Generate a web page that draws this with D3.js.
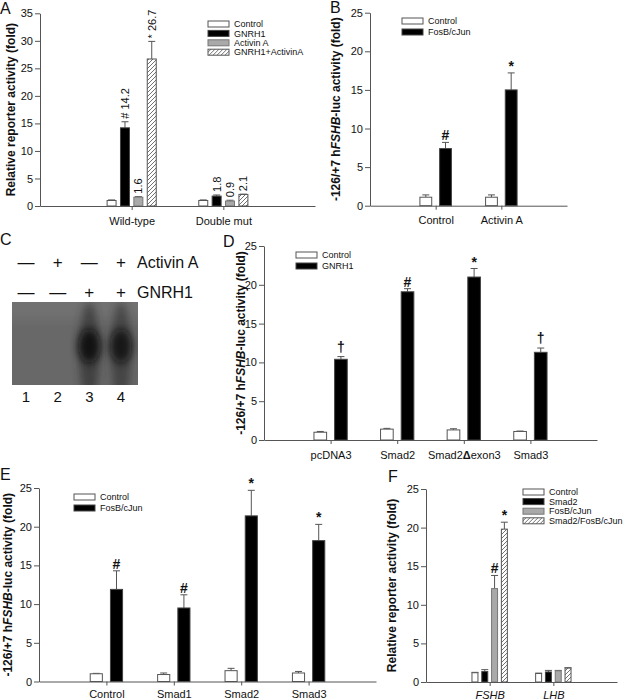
<!DOCTYPE html>
<html><head><meta charset="utf-8">
<script src="https://cdn.jsdelivr.net/npm/d3@7"></script>
<style>body{margin:0;background:#fff}svg{display:block}text{font-family:"Liberation Sans",Arial,sans-serif;fill:#111}</style>
</head><body><svg id="fig" width="624" height="700"></svg>
<script>
// ================= DATA =================
// Panel A
const A_categories = ["Wild-type", "Double mut"];
const A_seriesNames = ["Control", "GNRH1", "Activin A", "GNRH1+ActivinA"];
const A_control = [1.0, 1.0];
const A_controlErr = [0.1, 0.1];
const A_gnrh1 = [14.2, 1.8];
const A_gnrh1Err = [1.1, 0.2];
const A_activin = [1.6, 0.9];
const A_activinErr = [0.1, 0.15];
const A_combo = [26.7, 2.1];
const A_comboErr = [3.2, 0.05];
const A_controlLabels = [null, null];
const A_gnrh1Labels = ["# 14.2", "1.8"];
const A_activinLabels = ["1.6", "0.9"];
const A_comboLabels = ["* 26.7", "2.1"];
const A_yTicks = [0, 5, 10, 15, 20, 25, 30, 35];

// Panel B
const B_categories = ["Control", "Activin A"];
const B_seriesNames = ["Control", "FosB/cJun"];
const B_control = [1.1, 1.1];
const B_controlErr = [0.3, 0.3];
const B_fosb = [7.4, 15.0];
const B_fosbErr = [0.8, 2.2];
const B_fosbMarks = ["#", "*"];
const B_yTicks = [0, 5, 10, 15, 20, 25];

// Panel C (blot)
const C_lanes = ["1", "2", "3", "4"];
const C_activinSigns = ["\u2014", "+", "\u2014", "+"];
const C_gnrhSigns = ["\u2014", "\u2014", "+", "+"];
const C_bandIntensity = [0, 0, 1.0, 0.9];

// Panel D
const D_categories = ["pcDNA3", "Smad2", "Smad2\u0394exon3", "Smad3"];
const D_seriesNames = ["Control", "GNRH1"];
const D_control = [1.0, 1.4, 1.3, 1.1];
const D_controlErr = [0.1, 0.1, 0.15, 0.05];
const D_gnrh1 = [10.4, 19.1, 21.0, 11.3];
const D_gnrh1Err = [0.35, 0.4, 1.1, 0.55];
const D_gnrh1Marks = ["\u2020", "#", "*", "\u2020"];
const D_yTicks = [0, 5, 10, 15, 20, 25];

// Panel E
const E_categories = ["Control", "Smad1", "Smad2", "Smad3"];
const E_seriesNames = ["Control", "FosB/cJun"];
const E_control = [1.0, 0.9, 1.4, 1.1];
const E_controlErr = [0.05, 0.2, 0.3, 0.2];
const E_fosb = [11.9, 9.5, 21.4, 18.2];
const E_fosbErr = [2.4, 1.7, 3.3, 2.1];
const E_fosbMarks = ["#", "#", "*", "*"];
const E_yTicks = [0, 5, 10, 15, 20, 25];

// Panel F
const F_categories = ["FSHB", "LHB"];
const F_seriesNames = ["Control", "Smad2", "FosB/cJun", "Smad2/FosB/cJun"];
const F_control = [1.2, 1.1];
const F_controlErr = [0.05, 0.05];
const F_smad2 = [1.35, 1.3];
const F_smad2Err = [0.25, 0.2];
const F_fosb = [12.1, 1.45];
const F_fosbErr = [1.7, 0.05];
const F_combo = [19.8, 1.8];
const F_comboErr = [0.9, 0.05];
const F_fosbMarks = ["#", null];
const F_comboMarks = ["*", null];
const F_yTicks = [0, 5, 10, 15, 20, 25];

// ================= DRAWING =================
const svg = d3.select("#fig");
const FONT = '"Liberation Sans", Arial, sans-serif';
const AXC = "#555";
const defs = svg.append("defs");

const hatch = defs.append("pattern").attr("id", "hatch")
  .attr("patternUnits", "userSpaceOnUse").attr("width", 4).attr("height", 4);
hatch.append("rect").attr("width", 4).attr("height", 4).attr("fill", "#fff");
hatch.append("path").attr("d", "M-1,1 l2,-2 M0,4 l4,-4 M3,5 l2,-2")
  .attr("stroke", "#444").attr("stroke-width", 0.75);

const styles = {
  white: {fill: "#fff", stroke: "#555"},
  black: {fill: "#000", stroke: "#444"},
  gray: {fill: "#a9a9a9", stroke: "#777"},
  hatch: {fill: "url(#hatch)", stroke: "#555"}
};

function yLabelTspans(t, fsh) {
  if (fsh) {
    t.append("tspan").text("-126/+7 h");
    t.append("tspan").attr("font-style", "italic").text("FSHB");
    t.append("tspan").text("-luc activity (fold)");
  } else {
    t.text("Relative reporter activity (fold)");
  }
}

function barPanel(cfg) {
  const g = svg.append("g");
  const n = cfg.categories.length;
  const x = d3.scaleLinear().domain([0, n + 1]).range([cfg.x0, cfg.x1]);
  const y = d3.scaleLinear().domain([0, d3.max(cfg.yTicks)]).range([cfg.yBot, cfg.yTop]);
  const unit = x(1) - x(0);
  const bw = cfg.bw * unit;
  const k = cfg.series.length;

  const recs = [];
  cfg.series.forEach((s, i) => {
    const off = (i - (k - 1) / 2) * cfg.step;
    s.values.forEach((v, j) => {
      recs.push({cx: x(j + 1 + off), v, e: s.errors[j], style: s.style,
        label: s.labels ? s.labels[j] : null, mark: s.marks ? s.marks[j] : null});
    });
  });

  const eb = g.append("g").selectAll("g").data(recs).join("g");
  eb.append("line").attr("x1", d => d.cx).attr("x2", d => d.cx)
    .attr("y1", d => y(d.v)).attr("y2", d => y(d.v + d.e))
    .attr("stroke", AXC).attr("stroke-width", 1);
  eb.append("line").attr("x1", d => d.cx - 3.5).attr("x2", d => d.cx + 3.5)
    .attr("y1", d => y(d.v + d.e)).attr("y2", d => y(d.v + d.e))
    .attr("stroke", AXC).attr("stroke-width", 1);

  g.append("g").selectAll("rect").data(recs).join("rect")
    .attr("x", d => d.cx - bw / 2).attr("y", d => y(d.v))
    .attr("width", bw).attr("height", d => y(0) - y(d.v))
    .attr("fill", d => styles[d.style].fill)
    .attr("stroke", d => styles[d.style].stroke).attr("stroke-width", 1);

  g.append("g").selectAll("text").data(recs.filter(d => d.label)).join("text")
    .attr("transform", d => `translate(${d.cx},${y(d.v + d.e) - 3}) rotate(-90)`)
    .attr("dy", "0.36em").attr("font-size", 11).text(d => d.label);

  g.append("g").selectAll("text").data(recs.filter(d => d.mark)).join("text")
    .attr("x", d => d.cx)
    .attr("y", d => y(d.v + d.e) - (d.mark === "\u2020" ? 5 : 2))
    .attr("text-anchor", "middle").attr("font-size", 14).attr("font-weight", "bold")
    .attr("fill", "#000")
    .text(d => d.mark);

  const ya = g.append("g").attr("transform", `translate(${cfg.x0},0)`)
    .call(d3.axisLeft(y).tickValues(cfg.yTicks).tickSize(5).tickSizeOuter(0).tickPadding(2));
  const xa = g.append("g").attr("transform", `translate(0,${cfg.yBot})`)
    .call(d3.axisBottom(x).tickValues(d3.range(1, n + 1)).tickFormat(i => cfg.categories[i - 1])
      .tickSize(4).tickSizeOuter(0).tickPadding(cfg.xPad || 7));
  [ya, xa].forEach(a => {
    a.select(".domain").attr("stroke", AXC);
    a.selectAll(".tick line").attr("stroke", AXC);
    a.selectAll("text").attr("font-size", 11).attr("font-family", FONT).attr("fill", "#111");
  });
  if (cfg.italicX) xa.selectAll("text").attr("font-style", "italic");
  if (cfg.boldDelta) {
    xa.selectAll(".tick text").each(function (d) {
      const s = cfg.categories[d - 1];
      if (s.includes("\u0394")) {
        const t = d3.select(this).text("");
        const parts = s.split("\u0394");
        t.append("tspan").text(parts[0]);
        t.append("tspan").attr("font-weight", "bold").text("\u0394");
        t.append("tspan").text(parts[1]);
      }
    });
  }

  const yl = g.append("text")
    .attr("transform", `translate(${cfg.ylx},${(cfg.yTop + cfg.yBot) / 2}) rotate(-90)`)
    .attr("text-anchor", "middle").attr("font-size", 12).attr("font-weight", "bold");
  yLabelTspans(yl, cfg.fshLabel);

  const lg = g.append("g").selectAll("g").data(cfg.series).join("g")
    .attr("transform", (d, i) => `translate(${cfg.legend.x},${cfg.legend.y + i * cfg.legend.dy})`);
  lg.append("rect").attr("x", 0).attr("y", -3).attr("width", 21).attr("height", 6)
    .attr("fill", d => styles[d.style].fill).attr("stroke", d => styles[d.style].stroke);
  lg.append("text").attr("x", 26).attr("dy", "0.35em").attr("font-size", 9).text(d => d.name);

  g.append("text").attr("x", cfg.letter[0]).attr("y", cfg.letter[1])
    .attr("font-size", 16).text(cfg.letter[2]);
}

barPanel({
  categories: A_categories, yTicks: A_yTicks,
  x0: 40, x1: 315, yTop: 13.3, yBot: 206, bw: 0.098, step: 0.146,
  series: [
    {name: A_seriesNames[0], values: A_control, errors: A_controlErr, labels: A_controlLabels, style: "white"},
    {name: A_seriesNames[1], values: A_gnrh1, errors: A_gnrh1Err, labels: A_gnrh1Labels, style: "black"},
    {name: A_seriesNames[2], values: A_activin, errors: A_activinErr, labels: A_activinLabels, style: "gray"},
    {name: A_seriesNames[3], values: A_combo, errors: A_comboErr, labels: A_comboLabels, style: "hatch"}
  ],
  legend: {x: 208, y: 24, dy: 9.4}, ylx: 15, fshLabel: false, letter: [0, 14, "A"]
});

barPanel({
  categories: B_categories, yTicks: B_yTicks,
  x0: 370, x1: 567, yTop: 12.7, yBot: 205.7, bw: 0.18, step: 0.3,
  series: [
    {name: B_seriesNames[0], values: B_control, errors: B_controlErr, style: "white"},
    {name: B_seriesNames[1], values: B_fosb, errors: B_fosbErr, marks: B_fosbMarks, style: "black"}
  ],
  legend: {x: 402, y: 21, dy: 11}, ylx: 340, fshLabel: true, letter: [330, 13, "B"]
});

barPanel({
  categories: D_categories, yTicks: D_yTicks, boldDelta: true,
  x0: 264, x1: 597, yTop: 246, yBot: 440, bw: 0.19, step: 0.31,
  series: [
    {name: D_seriesNames[0], values: D_control, errors: D_controlErr, style: "white"},
    {name: D_seriesNames[1], values: D_gnrh1, errors: D_gnrh1Err, marks: D_gnrh1Marks, style: "black"}
  ],
  legend: {x: 296, y: 255, dy: 11}, ylx: 245, fshLabel: true, letter: [223, 247, "D"]
});

barPanel({
  categories: E_categories, yTicks: E_yTicks, xPad: 5,
  x0: 39, x1: 376, yTop: 488, yBot: 681.5, bw: 0.18, step: 0.3,
  series: [
    {name: E_seriesNames[0], values: E_control, errors: E_controlErr, style: "white"},
    {name: E_seriesNames[1], values: E_fosb, errors: E_fosbErr, marks: E_fosbMarks, style: "black"}
  ],
  legend: {x: 74, y: 497, dy: 11}, ylx: 12, fshLabel: true, letter: [0, 480, "E"]
});

barPanel({
  categories: F_categories, yTicks: F_yTicks, italicX: true, xPad: 5,
  x0: 426, x1: 617, yTop: 489, yBot: 682, bw: 0.094, step: 0.154,
  series: [
    {name: F_seriesNames[0], values: F_control, errors: F_controlErr, style: "white"},
    {name: F_seriesNames[1], values: F_smad2, errors: F_smad2Err, style: "black"},
    {name: F_seriesNames[2], values: F_fosb, errors: F_fosbErr, marks: F_fosbMarks, style: "gray"},
    {name: F_seriesNames[3], values: F_combo, errors: F_comboErr, marks: F_comboMarks, style: "hatch"}
  ],
  legend: {x: 523, y: 492, dy: 9.6}, ylx: 396, fshLabel: false, letter: [388, 482, "F"]
});

// Panel C: blot
(function () {
  const g = svg.append("g");
  const lx = d3.scalePoint().domain(C_lanes).range([26, 121]);
  const blot = {x: 12, y: 302, w: 126, h: 83};
  const f1 = defs.append("filter").attr("id", "blurA").attr("x", "-100%").attr("y", "-100%").attr("width", "300%").attr("height", "300%");
  f1.append("feGaussianBlur").attr("stdDeviation", 4);
  const f2 = defs.append("filter").attr("id", "blurB").attr("x", "-100%").attr("y", "-100%").attr("width", "300%").attr("height", "300%");
  f2.append("feGaussianBlur").attr("stdDeviation", 4.5);
  const f3 = defs.append("filter").attr("id", "blurC").attr("x", "-20%").attr("y", "-20%").attr("width", "140%").attr("height", "140%");
  f3.append("feGaussianBlur").attr("stdDeviation", 6);
  defs.append("clipPath").attr("id", "blotClip").append("rect")
    .attr("x", blot.x).attr("y", blot.y).attr("width", blot.w).attr("height", blot.h);
  g.append("rect").attr("x", blot.x).attr("y", blot.y).attr("width", blot.w).attr("height", blot.h)
    .attr("fill", "#686868");
  const bands = g.append("g").attr("clip-path", "url(#blotClip)");
  bands.append("rect").attr("x", blot.x - 10).attr("y", blot.y - 10).attr("width", blot.w + 20).attr("height", 28)
    .attr("fill", "#7a7a7a").attr("opacity", 0.5).attr("filter", "url(#blurC)");
  const lanes = C_lanes.map((l, i) => ({l, v: C_bandIntensity[i]})).filter(d => d.v > 0);
  bands.selectAll("ellipse.streak").data(lanes).join("ellipse").attr("class", "streak")
    .attr("cx", d => lx(d.l)).attr("cy", 352).attr("rx", 10).attr("ry", 50)
    .attr("fill", "#252525").attr("opacity", d => 0.6 * d.v).attr("filter", "url(#blurA)");
  bands.selectAll("ellipse.core").data(lanes).join("ellipse").attr("class", "core")
    .attr("cx", d => lx(d.l)).attr("cy", 346).attr("rx", 11).attr("ry", 17)
    .attr("fill", "#080808").attr("opacity", d => 0.9 * d.v).attr("filter", "url(#blurB)");

  g.selectAll("text.act").data(C_activinSigns).join("text").attr("class", "act")
    .attr("x", (d, i) => lx(C_lanes[i])).attr("y", 268).attr("text-anchor", "middle")
    .attr("font-size", 17).text(d => d);
  g.selectAll("text.gn").data(C_gnrhSigns).join("text").attr("class", "gn")
    .attr("x", (d, i) => lx(C_lanes[i])).attr("y", 298).attr("text-anchor", "middle")
    .attr("font-size", 17).text(d => d);
  g.append("text").attr("x", 137).attr("y", 268).attr("font-size", 16).text("Activin A");
  g.append("text").attr("x", 137).attr("y", 298).attr("font-size", 16).text("GNRH1");
  g.selectAll("text.lane").data(C_lanes).join("text").attr("class", "lane")
    .attr("x", d => lx(d)).attr("y", 402).attr("text-anchor", "middle")
    .attr("font-size", 15).text(d => d);
  g.append("text").attr("x", 0).attr("y", 245).attr("font-size", 16).text("C");
})();
</script></body></html>
